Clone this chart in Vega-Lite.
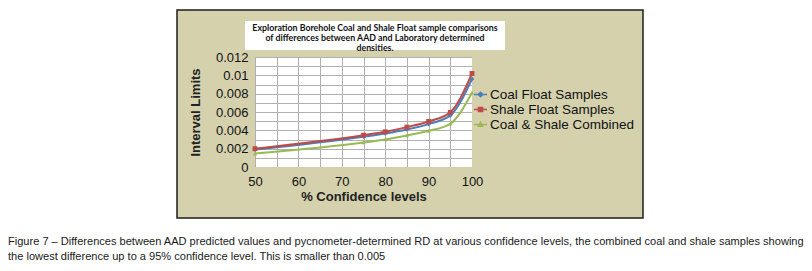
{
  "$schema": "https://vega.github.io/schema/vega-lite/v6.json",
  "width": 217,
  "height": 110,
  "autosize": {"type": "none"},
  "padding": {"left": 255, "top": 57, "right": 340, "bottom": 104},
  "background": "white",
  "title": {
    "text": ["Exploration Borehole Coal and Shale Float sample comparisons", "of differences between AAD and Laboratory determined", "densities."],
    "anchor": "middle",
    "frame": "group",
    "dx": 11.5,
    "offset": -44,
    "font": "Lato",
    "fontSize": 8.8,
    "fontWeight": "bold",
    "color": "#111",
    "lineHeight": 10.3
  },
  "config": {
    "view": {"stroke": "#999", "fill": "white"},
    "font": "Liberation Sans",
    "axis": {
      "ticks": false,
      "domain": false,
      "labelFlush": false,
      "labelOverlap": false,
      "gridColor": "#b0b0b0",
      "gridWidth": 1,
      "labelFont": "Liberation Sans",
      "labelFontSize": 13,
      "labelColor": "#111",
      "titleFont": "Liberation Sans",
      "titleFontSize": 13,
      "titleFontWeight": "bold",
      "titleColor": "#222"
    }
  },
  "data": {
    "values": [
      {"series": "Coal Float Samples", "level": 50, "value": 0.0019},
      {"series": "Coal Float Samples", "level": 75, "value": 0.0033},
      {"series": "Coal Float Samples", "level": 80, "value": 0.00366},
      {"series": "Coal Float Samples", "level": 85, "value": 0.0041},
      {"series": "Coal Float Samples", "level": 90, "value": 0.00468},
      {"series": "Coal Float Samples", "level": 95, "value": 0.00563},
      {"series": "Coal Float Samples", "level": 100, "value": 0.0096},
      {"series": "Shale Float Samples", "level": 50, "value": 0.002},
      {"series": "Shale Float Samples", "level": 75, "value": 0.00347},
      {"series": "Shale Float Samples", "level": 80, "value": 0.00384},
      {"series": "Shale Float Samples", "level": 85, "value": 0.00435},
      {"series": "Shale Float Samples", "level": 90, "value": 0.00497},
      {"series": "Shale Float Samples", "level": 95, "value": 0.00596},
      {"series": "Shale Float Samples", "level": 100, "value": 0.0102},
      {"series": "Coal & Shale Combined", "level": 50, "value": 0.00146},
      {"series": "Coal & Shale Combined", "level": 75, "value": 0.00267},
      {"series": "Coal & Shale Combined", "level": 80, "value": 0.003},
      {"series": "Coal & Shale Combined", "level": 85, "value": 0.00344},
      {"series": "Coal & Shale Combined", "level": 90, "value": 0.00395},
      {"series": "Coal & Shale Combined", "level": 95, "value": 0.00472},
      {"series": "Coal & Shale Combined", "level": 100, "value": 0.0081}
    ]
  },
  "resolve": {"axis": {"x": "independent", "y": "independent"}},
  "layer": [
    {
      "transform": [{"filter": "datum.level == 50 && datum.series == 'Coal Float Samples'"}],
      "layer": [
        {
          "mark": {"type": "rect", "fill": "#d5d1ad", "clip": false},
          "encoding": {
            "x": {"datum": 32.03, "type": "quantitative"}, "x2": {"datum": 139.4},
            "y": {"datum": 0.01713, "type": "quantitative"}, "y2": {"datum": 0.012}
          }
        },
        {
          "mark": {"type": "rect", "fill": "#d5d1ad", "clip": false},
          "encoding": {
            "x": {"datum": 32.03, "type": "quantitative"}, "x2": {"datum": 139.4},
            "y": {"datum": 0, "type": "quantitative"}, "y2": {"datum": -0.00556}
          }
        },
        {
          "mark": {"type": "rect", "fill": "#d5d1ad", "clip": false},
          "encoding": {
            "x": {"datum": 32.03, "type": "quantitative"}, "x2": {"datum": 50},
            "y": {"datum": 0, "type": "quantitative"}, "y2": {"datum": 0.012}
          }
        },
        {
          "mark": {"type": "rect", "fill": "#d5d1ad", "clip": false},
          "encoding": {
            "x": {"datum": 100, "type": "quantitative"}, "x2": {"datum": 139.4},
            "y": {"datum": 0, "type": "quantitative"}, "y2": {"datum": 0.012}
          }
        },
        {
          "mark": {"type": "rect", "fillOpacity": 0, "stroke": "#1e1e1e", "strokeWidth": 1.5, "clip": false},
          "encoding": {
            "x": {"datum": 32.03, "type": "quantitative"}, "x2": {"datum": 139.4},
            "y": {"datum": 0.01713, "type": "quantitative"}, "y2": {"datum": -0.00556}
          }
        },
        {
          "mark": {"type": "rect", "fill": "white", "clip": false},
          "encoding": {
            "x": {"datum": 47.7, "type": "quantitative"}, "x2": {"datum": 107.6},
            "y": {"datum": 0.01593, "type": "quantitative"}, "y2": {"datum": 0.01276}
          }
        }
      ]
    },
    {
      "mark": {"type": "line", "interpolate": "monotone", "strokeWidth": 2},
      "encoding": {
        "x": {
          "field": "level", "type": "quantitative",
          "scale": {"domain": [50, 100], "nice": false, "zero": false},
          "axis": {
            "title": null, "labels": false, "orient": "bottom",
            "values": [50, 55, 60, 65, 70, 75, 80, 85, 90, 95, 100],
            "grid": true, "zindex": 0
          }
        },
        "y": {
          "field": "value", "type": "quantitative",
          "scale": {"domain": [0, 0.012], "nice": false, "zero": false},
          "axis": {
            "title": null, "labels": false, "orient": "left",
            "values": [0, 0.001, 0.002, 0.003, 0.004, 0.005, 0.006, 0.007, 0.008, 0.009, 0.01, 0.011, 0.012],
            "grid": true, "zindex": 0
          }
        },
        "color": {
          "field": "series", "type": "nominal",
          "scale": {
            "domain": ["Coal Float Samples", "Shale Float Samples", "Coal & Shale Combined"],
            "range": ["#4a7ebb", "#be4b48", "#98b954"]
          },
          "legend": {
            "title": null,
            "orient": "none",
            "legendX": 218,
            "legendY": 30,
            "symbolSize": 169,
            "symbolStrokeWidth": 1.5,
            "labelFont": "Liberation Sans",
            "labelFontSize": 13.5,
            "labelColor": "#111",
            "labelOffset": 2,
            "rowPadding": 1,
            "labelLimit": 300,
            "encode": {
              "symbols": {
                "update": {
                  "shape": {"signal": "datum.value == 'Coal Float Samples' ? 'M-1,0H1M0,-0.35L0.35,0L0,0.35L-0.35,0Z' : datum.value == 'Shale Float Samples' ? 'M-1,0H1M-0.32,-0.32H0.32V0.32H-0.32Z' : 'M-1,0H1M0,-0.32L0.32,0.26H-0.32Z'"},
                  "fill": {"signal": "scale('color', datum.value)"},
                  "stroke": {"signal": "scale('color', datum.value)"},
                  "strokeWidth": {"value": 1.5},
                  "opacity": {"value": 1}
                }
              }
            }
          }
        }
      }
    },
    {
      "transform": [{"filter": "datum.series == 'Coal Float Samples'"}],
      "mark": {"type": "point", "filled": true, "opacity": 1, "shape": "diamond", "size": 22},
      "encoding": {
        "x": {
          "field": "level", "type": "quantitative",
          "axis": {
            "title": "% Confidence levels", "orient": "bottom", "grid": false, "zindex": 1,
            "values": [50, 60, 70, 80, 90, 100],
            "labelPadding": 8, "titlePadding": 2
          }
        },
        "y": {
          "field": "value", "type": "quantitative",
          "axis": {
            "title": "Interval Limits", "orient": "left", "grid": false, "zindex": 1,
            "values": [0, 0.002, 0.004, 0.006, 0.008, 0.01, 0.012],
            "format": "~f",
            "labelPadding": 7, "titlePadding": 13
          }
        },
        "color": {"field": "series", "type": "nominal"}
      }
    },
    {
      "transform": [{"filter": "datum.series == 'Shale Float Samples'"}],
      "mark": {"type": "point", "filled": true, "opacity": 1, "shape": "square", "size": 24},
      "encoding": {
        "x": {"field": "level", "type": "quantitative", "axis": null},
        "y": {"field": "value", "type": "quantitative", "axis": null},
        "color": {"field": "series", "type": "nominal"}
      }
    },
    {
      "transform": [{"filter": "datum.series == 'Coal & Shale Combined'"}],
      "mark": {"type": "point", "filled": true, "opacity": 1, "shape": "triangle-up", "size": 18},
      "encoding": {
        "x": {"field": "level", "type": "quantitative", "axis": null},
        "y": {"field": "value", "type": "quantitative", "axis": null},
        "color": {"field": "series", "type": "nominal"}
      }
    },
    {
      "data": {"values": [{"caption": "Figure 7 – Differences between AAD predicted values and pycnometer-determined RD at various confidence levels, the combined coal and shale samples showing\nthe lowest difference up to a 95%  confidence level. This is smaller than 0.005"}]},
      "mark": {"type": "text", "align": "left", "baseline": "top", "lineBreak": "\n", "lineHeight": 14.5, "font": "Liberation Sans", "fontSize": 11.05, "color": "#1a1a1a", "clip": false},
      "encoding": {
        "x": {"datum": -6.91, "type": "quantitative", "axis": null},
        "y": {"datum": -0.00753, "type": "quantitative", "axis": null},
        "text": {"field": "caption"}
      }
    }
  ]
}
